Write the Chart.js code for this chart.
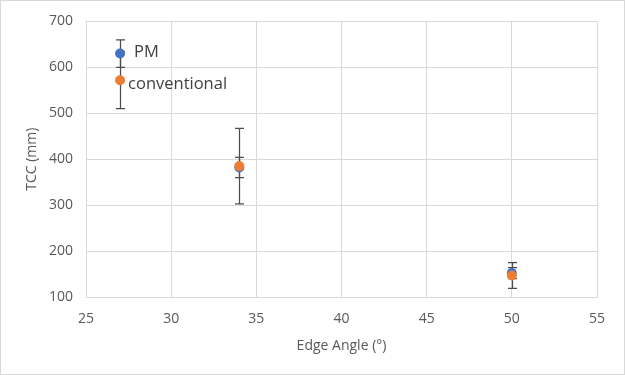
<!DOCTYPE html>
<html>
<head>
<meta charset="utf-8">
<script src="https://cdn.jsdelivr.net/npm/chart.js@4/dist/chart.umd.min.js"></script>
<style>
body { margin: 0; background: #fff; }
#wrap { width: 625px; height: 375px; position: relative; }
</style>
</head>
<body>
<div id="wrap"><canvas id="tccChart"></canvas></div>
<script>
// values
var edgeAngles = [27, 34, 50];
var pmTcc = [630, 382, 152];
var pmErr = [30, 22, 12];
var convTcc = [572, 385, 147];
var convErr = [62, 82, 28];
var xTicks = [25, 30, 35, 40, 45, 50, 55];
var yTicks = [100, 200, 300, 400, 500, 600, 700];
var seriesNames = ["PM", "conventional"];

function toPoints(xs, ys) {
    var pts = [];
    for (let i = 0; i < xs.length; i++) {
        pts.push({x: xs[i], y: ys[i]});
    }
    return pts;
}

var gridGray = "#d9d9d9";
var textGray = "#595959";
var fontName = "'Open Sans', 'Noto Sans', sans-serif";

// outer frame like the excel chart area
var frame = {
    id: "frame",
    beforeDraw: function(chart) {
        var ctx = chart.ctx;
        ctx.save();
        ctx.fillStyle = "#fff";
        ctx.fillRect(0, 0, chart.width, chart.height);
        ctx.strokeStyle = gridGray;
        ctx.lineWidth = 1;
        ctx.strokeRect(0.5, 0.5, chart.width - 1, chart.height - 1);
        ctx.restore();
    }
};

// vertical error bars, drawn under the markers
var errorBars = {
    id: "errorBars",
    beforeDatasetsDraw: function(chart) {
        var ctx = chart.ctx;
        var xs = chart.scales.x, ys = chart.scales.y;
        ctx.save();
        ctx.strokeStyle = "#4d4d4d";
        ctx.lineWidth = 1.25;
        chart.data.datasets.forEach(function(ds) {
            for (let i = 0; i < ds.data.length; i++) {
                var p = ds.data[i];
                var e = ds.errors[i];
                var px = Math.round(xs.getPixelForValue(p.x)) + 0.5;
                var top = ys.getPixelForValue(p.y + e);
                var bot = ys.getPixelForValue(p.y - e);
                ctx.beginPath();
                ctx.moveTo(px, top); ctx.lineTo(px, bot);
                ctx.moveTo(px - 4.5, top); ctx.lineTo(px + 4.5, top);
                ctx.moveTo(px - 4.5, bot); ctx.lineTo(px + 4.5, bot);
                ctx.stroke();
            }
        });
        ctx.restore();
    }
};

// series name next to first point of each series
var pointLabels = {
    id: "pointLabels",
    afterDatasetsDraw: function(chart) {
        var ctx = chart.ctx;
        ctx.save();
        ctx.font = "16.5px " + fontName;
        ctx.fillStyle = "#404040";
        ctx.textBaseline = "middle";
        chart.data.datasets.forEach(function(ds, di) {
            var el = chart.getDatasetMeta(di).data[0];
            ctx.fillText(ds.label, el.x + ds.labelDx, el.y + ds.labelDy);
        });
        ctx.restore();
    }
};

new Chart(document.getElementById("tccChart"), {
    type: "scatter",
    data: {
        datasets: [
            {
                label: seriesNames[0],
                data: toPoints(edgeAngles, pmTcc),
                errors: pmErr,
                backgroundColor: "#4472C4",
                borderColor: "#4472C4",
                pointRadius: 5,
                borderWidth: 0,
                labelDx: 14,
                labelDy: -1,
                order: 2
            },
            {
                label: seriesNames[1],
                data: toPoints(edgeAngles, convTcc),
                errors: convErr,
                backgroundColor: "#ED7D31",
                borderColor: "#ED7D31",
                pointRadius: 5,
                borderWidth: 0,
                labelDx: 8,
                labelDy: 4,
                order: 1
            }
        ]
    },
    options: {
        responsive: true,
        maintainAspectRatio: false,
        animation: false,
        layout: { padding: { left: 24, top: 19, right: 28, bottom: 0 } },
        plugins: {
            legend: { display: false },
            tooltip: { enabled: false }
        },
        scales: {
            x: {
                type: "linear",
                min: 25, max: 55,
                afterBuildTicks: function(axis) { axis.ticks = xTicks.map(v => ({value: v})); },
                afterFit: function(axis) { axis.height = 78; },
                grid: { color: gridGray, drawTicks: false },
                border: { color: gridGray },
                ticks: { color: textGray, padding: 14, font: { family: fontName, size: 14 } },
                title: { display: true, text: "Edge Angle (°)", color: textGray,
                         font: { family: fontName, size: 14 }, padding: { top: 0, bottom: 21 } }
            },
            y: {
                type: "linear",
                min: 100, max: 700,
                afterBuildTicks: function(axis) { axis.ticks = yTicks.map(v => ({value: v})); },
                afterFit: function(axis) { axis.width = 62; },
                grid: { color: gridGray, drawTicks: false },
                border: { color: gridGray },
                ticks: { color: textGray, padding: 13, font: { family: fontName, size: 14 } },
                title: { display: true, text: "TCC (mm)", color: textGray,
                         font: { family: fontName, size: 14 }, padding: 0 }
            }
        }
    },
    plugins: [frame, errorBars, pointLabels]
});
</script>
</body>
</html>
